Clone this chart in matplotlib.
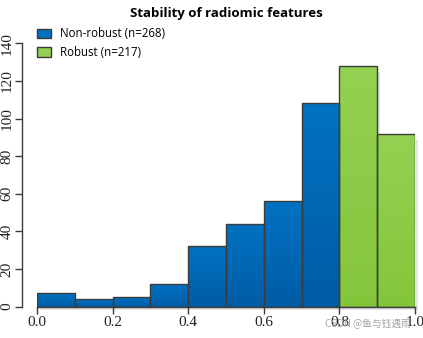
import numpy as np
import matplotlib.pyplot as plt
from matplotlib.patches import Patch
from matplotlib.colors import LinearSegmentedColormap

# histogram of stability values (bin width 0.1)
bin_edges = [0.0, 0.1, 0.2, 0.3, 0.4, 0.5, 0.6, 0.7, 0.8, 0.9, 1.0]
counts = [7, 4, 5, 12, 32, 44, 56, 108, 128, 92]
robust = [False, False, False, False, False, False, False, False, True, True]
labels = ["Non-robust (n=268)", "Robust (n=217)"]
xticks = [0.0, 0.2, 0.4, 0.6, 0.8, 1.0]
yticks = [0, 20, 40, 60, 80, 100, 120, 140]

blue_top, blue_bot = "#0072C2", "#005CA5"
green_top, green_bot = "#94D152", "#84C63A"
edge = "#3C3C3C"

fig = plt.figure(figsize=(4.23, 3.38), dpi=100)
ax = fig.add_axes([37 / 423, 31.4 / 338, 378 / 423, 263.3 / 338])

left = np.array(bin_edges[:-1])
width = np.diff(bin_edges)

# shadows (a few pixels right/down)
dx = 3 / 378
dy = -3 / 263.3 * 140
ax.bar(left + dx, np.array(counts) + dy, width=width, bottom=dy, align="edge",
       color="#E4E4E4", edgecolor="none", zorder=1, clip_on=False)

# bars with vertical gradient fill
grad = np.linspace(1, 0, 256).reshape(-1, 1)
for x0, w, c, r in zip(left, width, counts, robust):
    top, bot = (green_top, green_bot) if r else (blue_top, blue_bot)
    rect = ax.bar(x0, c, width=w, align="edge", facecolor="none",
                  edgecolor=edge, linewidth=1.0, zorder=3)[0]
    cmap = LinearSegmentedColormap.from_list("g", [bot, top])
    im = ax.imshow(grad, extent=(x0, x0 + w, 0, c), aspect="auto",
                   cmap=cmap, zorder=2, interpolation="bilinear")
    im.set_clip_path(rect)

ax.set_xlim(0, 1)
ax.set_ylim(0, 140)

for s in ["top", "right"]:
    ax.spines[s].set_visible(False)
ax.spines["left"].set_position(("outward", 10.6))
ax.spines["left"].set_bounds(0, 140)
ax.spines["bottom"].set_bounds(0, 1)
for s in ["left", "bottom"]:
    ax.spines[s].set_color(edge)
    ax.spines[s].set_linewidth(1.0)

ax.set_xticks(xticks)
ax.set_xticklabels([f"{t:.1f}" for t in xticks])
ax.set_yticks(yticks)
ax.set_yticklabels([str(t) for t in yticks], rotation=90, va="center")
ax.tick_params(axis="both", length=5, color=edge, width=1.0, pad=2,
               labelsize=11, labelfontfamily="Liberation Serif", labelcolor="#222222")
ax.tick_params(axis="y", pad=1.5)

fig.text(0.535, 0.960, "Stability of radiomic features", ha="center", va="center",
         family="Open Sans", fontweight="bold", fontsize=9.5)

handles = [Patch(facecolor=blue_top, edgecolor=edge, label=labels[0]),
           Patch(facecolor=green_top, edgecolor=edge, label=labels[1])]
fig.legend(handles=handles, loc="upper left", bbox_to_anchor=(0.062, 0.95),
           frameon=False, prop={"family": "Open Sans", "size": 8.3},
           handlelength=1.25, handleheight=0.85, handletextpad=0.75, labelspacing=0.5)

fig.text(0.87, 0.04, "CSDN @鱼与钰遇雨", ha="center", va="center", color="#9A9A9A",
         family=["Noto Sans CJK SC", "DejaVu Sans"], fontsize=7, alpha=0.9)

fig.savefig("out.png", dpi=100)
